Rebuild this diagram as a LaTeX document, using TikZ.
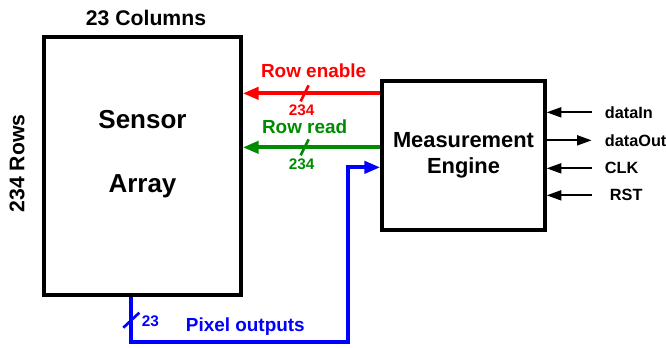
\documentclass[tikz,border=0pt]{standalone}
\usepackage{fontspec}
\setmainfont{Liberation Sans}
\usetikzlibrary{arrows.meta, positioning, calc}
\definecolor{rdgreen}{RGB}{0,140,0}
\def\fs#1#2{\fontsize{#1}{#2}\selectfont\bfseries}

\begin{document}
\begin{tikzpicture}
	[
	x = 0.75pt, y = -0.75pt,
	block/.style = {draw, line width = 2.5pt, inner sep = 0pt},
	bus/.style = {line width = 3pt},
	tip/.style = {
		->,
		>={Triangle[width=9pt,length=12pt]}
	},
	sig/.style = {
		line width = 1.5pt,
		>={Triangle[width=7.5pt,length=11pt]}
	},
	slash/.style = {line width = 2pt},
	lbl/.style = {font = \fs{14.2}{17}, inner sep = 0pt},
	num/.style = {font = \fs{11.5}{13}, inner sep = 0pt},
	pin/.style = {font = \fs{12.2}{14}, inner sep = 0pt}
	]
	\useasboundingbox (0,0) rectangle (666,347);
	
	\node[block, minimum width = 147.75pt, minimum height = 193.5pt] (sensor) at (142.5,166) {};
	\node[align = center, font = \fs{19.5}{23}] (sensortxt) at ($(sensor.center)+(0,-12)$) {Sensor\\[25pt]Array};
	\node[font = \fs{15.9}{19}, inner sep = 0pt] (cols) at (146,18) {23 Columns};
	\node[font = \fs{15.9}{19}, inner sep = 0pt, rotate = 90] (rows) at (17,163.5) {234 Rows};
	\node[block, minimum width = 122.25pt, minimum height = 111.75pt] (engine) at (463.5,155.5) {};
	\node[align = center, font = \fs{16.4}{19.5}, inner sep = 0pt] (enginetxt) at (engine.center) {Measurement\\Engine};
	
	\coordinate (ren) at ($(engine.north west)+(0,14)$);
	\coordinate (rrd) at ($(engine.north west)+(0,68)$);
	\coordinate (pix) at ($(engine.north west)+(0,88)$);
	\coordinate (pout) at ($(sensor.south west)+(89,0)$);
	
	\draw[tip, bus, red] (ren) -- coordinate[pos=0.55] (rens) (ren -| sensor.east);
	\draw[slash, red] ($(rens)+(-4,8)$) -- ($(rens)+(4,-8)$);
	\node[lbl, red] (renlbl) at ($(rens)+(9,-23)$) {Row enable};
	\node[num, red] (rennum) at ($(rens)+(-3,17)$) {234};
	
	\draw[tip, bus, rdgreen] (rrd) -- coordinate[pos=0.55] (rrds) (rrd -| sensor.east);
	\draw[slash, rdgreen] ($(rrds)+(-4,8)$) -- ($(rrds)+(4,-8)$);
	\node[lbl, rdgreen] (rrdlbl) at ($(rrds)+(0,-21)$) {Row read};
	\node[num, rdgreen] (rrdnum) at ($(rrds)+(-3,17)$) {234};
	
	\draw[tip, bus, blue] (pout) |- ($(pix)+(-32,175)$) coordinate (pcorner) |- (pix);
	\draw[slash, blue] ($(pout)+(-8,31)$) -- ($(pout)+(8,16)$);
	\node[num, blue] (pixnum) at ($(pout)+(19,25)$) {23};
	\node[lbl, blue] (pixlbl) at ($(pout)+(114,30)$) {Pixel outputs};
	
	\coordinate (pdin) at ($(engine.north east)+(45,33)$);
	\coordinate (pdout) at ($(engine.north east)+(45,61)$);
	\coordinate (pclk) at ($(engine.north east)+(45,89)$);
	\coordinate (prst) at ($(engine.north east)+(45,116)$);
	\draw[sig, ->] (pdin) -- (pdin -| engine.east);
	\draw[sig, <-] (pdout) -- (pdout -| engine.east);
	\draw[sig, ->] (pclk) -- (pclk -| engine.east);
	\draw[sig, ->] (prst) -- (prst -| engine.east);
	\node[pin, right = 9.75pt of pdin] (din) {dataIn};
	\node[pin, right = 9.75pt of pdout] (dout) {dataOut};
	\node[pin, right = 9.75pt of pclk] (clk) {CLK};
	\node[pin, right = 13.5pt of prst] (rst) {RST};
\end{tikzpicture}
\end{document}
